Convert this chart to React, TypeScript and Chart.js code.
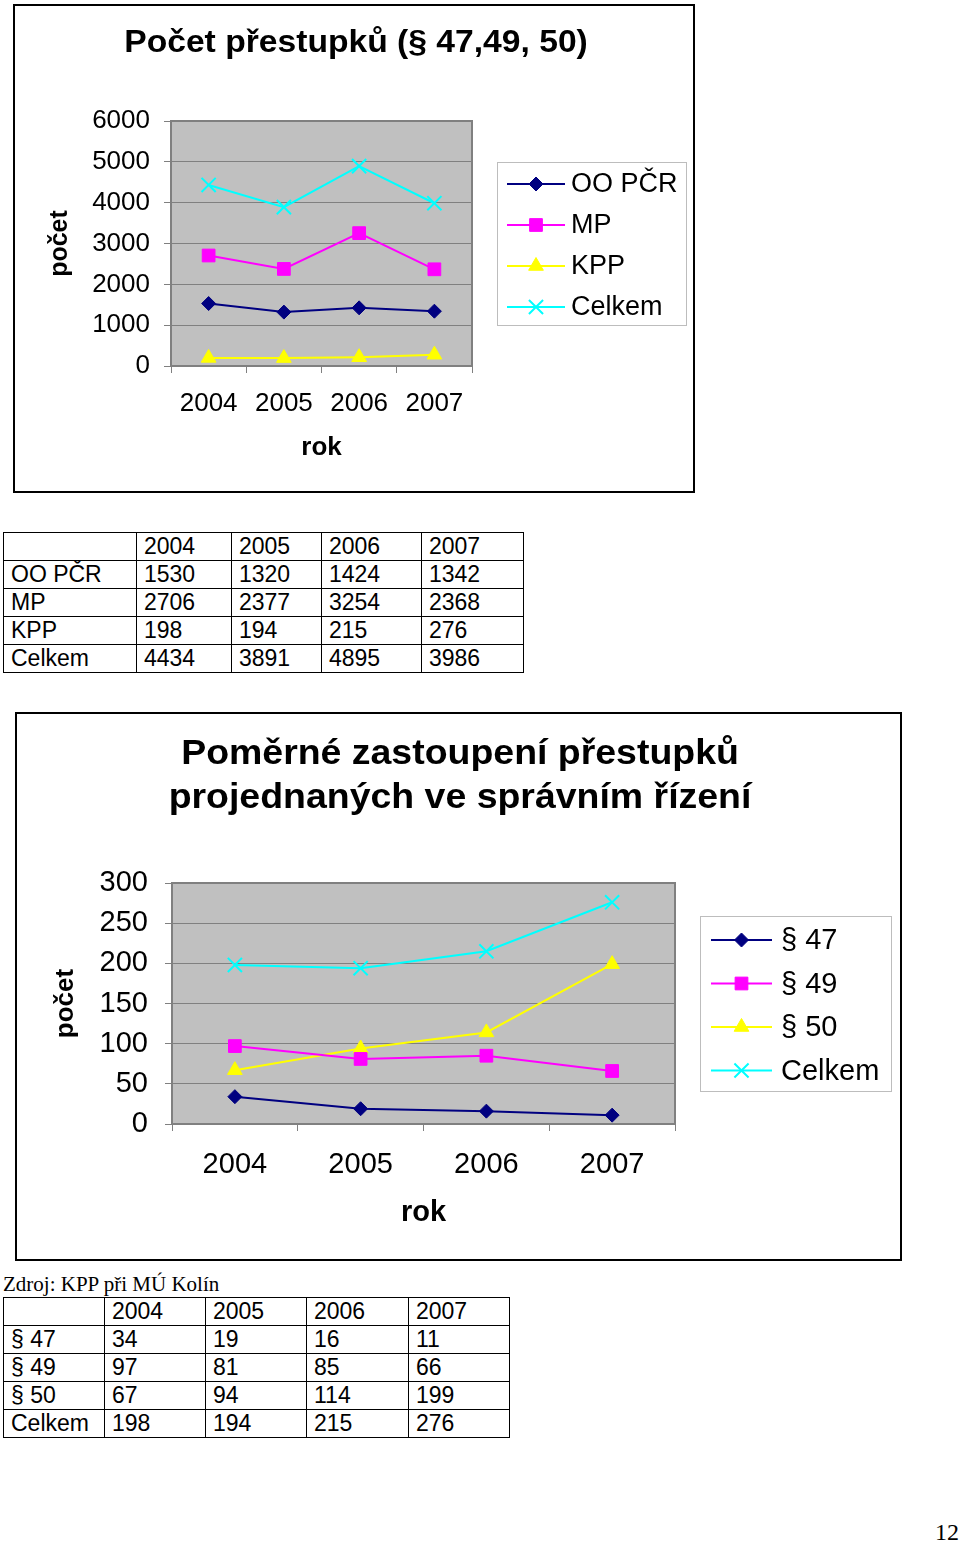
import React, { useEffect, useRef } from "react";
import { Chart, registerables } from "chart.js";
import { drawPoint } from "chart.js/helpers";

Chart.register(...registerables);

const FONT = '"Liberation Sans", Arial, Helvetica, sans-serif';
const SERIF = '"Liberation Serif", "Times New Roman", serif';

// ---------- data ----------
const years = ["2004", "2005", "2006", "2007"];

const chart1Title = ["Počet přestupků (§ 47,49, 50)"];
const chart1Series = ["OO PČR", "MP", "KPP", "Celkem"];
const ooPcr = [1530, 1320, 1424, 1342];
const mp = [2706, 2377, 3254, 2368];
const kpp = [198, 194, 215, 276];
const celkem1 = [4434, 3891, 4895, 3986];
const chart1YMax = 6000;
const chart1YStep = 1000;

const chart2Title = ["Poměrné zastoupení přestupků", "projednaných ve správním řízení"];
const chart2Series = ["§ 47", "§ 49", "§ 50", "Celkem"];
const par47 = [34, 19, 16, 11];
const par49 = [97, 81, 85, 66];
const par50 = [67, 94, 114, 199];
const celkem2 = [198, 194, 215, 276];
const chart2YMax = 300;
const chart2YStep = 50;

const xAxisTitle = "rok";
const yAxisTitle = "počet";
const sourceNote = "Zdroj: KPP při MÚ Kolín";
const pageNumber = "12";

// ---------- styles ----------
const seriesStyles = [
  { color: "#000080", pointStyle: "rectRot", radius: 7, bw: 1 },
  { color: "#FF00FF", pointStyle: "rect", radius: 9, bw: 1 },
  { color: "#FFFF00", pointStyle: "triangle", radius: 8.5, bw: 1 },
  { color: "#00FFFF", pointStyle: "crossRot", radius: 10, bw: 2 },
];

const decoPlugin = {
  id: "deco",
  beforeDraw(chart: any, _a: any, opts: any) {
    const { ctx, chartArea: a } = chart;
    ctx.save();
    ctx.fillStyle = opts.plotBg;
    ctx.fillRect(a.left, a.top, a.right - a.left, a.bottom - a.top);
    ctx.restore();
  },
  beforeDatasetsDraw(chart: any, _a: any, opts: any) {
    const { ctx, chartArea: a } = chart;
    ctx.save();
    ctx.strokeStyle = opts.plotBorder;
    ctx.lineWidth = 2;
    ctx.strokeRect(a.left, a.top, a.right - a.left, a.bottom - a.top);
    ctx.restore();
  },
  afterDraw(chart: any, _a: any, opts: any) {
    const { ctx } = chart;
    ctx.save();
    // title
    ctx.fillStyle = "#000";
    ctx.textAlign = "center";
    ctx.textBaseline = "alphabetic";
    ctx.font = `bold ${opts.titleSize}px ${FONT}`;
    opts.title.forEach((line: string, i: number) => {
      ctx.save();
      ctx.translate(opts.titleX, opts.titleY + i * opts.titleGap);
      ctx.scale(opts.titleStretch, 1);
      ctx.fillText(line, 0, 0);
      ctx.restore();
    });
    // legend
    const L = opts.legend;
    ctx.strokeStyle = "#BDBDBD";
    ctx.lineWidth = 1;
    ctx.strokeRect(L.x + 0.5, L.y + 0.5, L.w, L.h);
    ctx.font = `${L.fontSize}px ${FONT}`;
    ctx.textAlign = "left";
    ctx.textBaseline = "middle";
    chart.data.datasets.forEach((ds: any, i: number) => {
      const y = L.firstY + i * L.gap;
      ctx.strokeStyle = ds.borderColor;
      ctx.lineWidth = ds.borderWidth;
      ctx.beginPath();
      ctx.moveTo(L.lineX0, y);
      ctx.lineTo(L.lineX1, y);
      ctx.stroke();
      ctx.fillStyle = ds.pointBackgroundColor;
      ctx.strokeStyle = ds.pointBorderColor;
      ctx.lineWidth = ds.pointBorderWidth;
      drawPoint(
        ctx,
        { pointStyle: ds.pointStyle, rotation: 0, radius: ds.pointRadius, borderWidth: ds.pointBorderWidth } as any,
        (L.lineX0 + L.lineX1) / 2,
        y
      );
      ctx.fillStyle = "#000";
      ctx.fillText(ds.label, L.textX, y + 1);
    });
    ctx.restore();
  },
};

function makeDatasets(names: string[], values: number[][]) {
  return names.map((name, i) => {
    const s = seriesStyles[i];
    return {
      label: name,
      data: values[i],
      borderColor: s.color,
      backgroundColor: s.color,
      borderWidth: 2,
      pointStyle: s.pointStyle,
      pointRadius: s.radius,
      pointHoverRadius: s.radius,
      pointBackgroundColor: s.color,
      pointBorderColor: s.color,
      pointBorderWidth: s.bw,
      tension: 0,
      fill: false,
      clip: false,
    };
  });
}

type Geo = {
  padTop: number;
  padRight: number;
  yWidth: number;
  xHeight: number;
  tickFont: number;
  yPad: number;
  xPad: number;
  yTitleFont: number;
  yTitlePad: number;
  xTitleFont: number;
  xTitlePad: number;
  yMax: number;
  yStep: number;
  deco: any;
};

function makeConfig(names: string[], values: number[][], g: Geo): any {
  return {
    type: "line",
    data: { labels: years, datasets: makeDatasets(names, values) },
    plugins: [decoPlugin],
    options: {
      animation: false,
      responsive: false,
      maintainAspectRatio: false,
      events: [],
      layout: { padding: { top: g.padTop, right: g.padRight, left: 0, bottom: 0 } },
      plugins: {
        legend: { display: false },
        title: { display: false },
        tooltip: { enabled: false },
        deco: g.deco,
      },
      scales: {
        x: {
          type: "category",
          offset: true,
          grid: {
            offset: true,
            drawOnChartArea: false,
            drawTicks: true,
            tickLength: 7,
            tickColor: "#808080",
            color: "#808080",
          },
          border: { display: true, color: "#808080", width: 2 },
          ticks: {
            padding: g.xPad,
            color: "#000",
            maxRotation: 0,
            autoSkip: false,
            font: { family: FONT, size: g.tickFont },
          },
          title: {
            display: true,
            text: xAxisTitle,
            color: "#000",
            font: { family: FONT, size: g.xTitleFont, weight: "bold" },
            padding: { top: 0, bottom: g.xTitlePad },
          },
          afterFit: (s: any) => {
            s.height = g.xHeight;
          },
        },
        y: {
          min: 0,
          max: g.yMax,
          grid: { color: "#808080", lineWidth: 1, tickLength: 7, tickColor: "#808080", drawTicks: true },
          border: { display: true, color: "#808080", width: 2 },
          ticks: {
            stepSize: g.yStep,
            padding: g.yPad,
            color: "#000",
            font: { family: FONT, size: g.tickFont },
            callback: (v: any) => String(v),
          },
          title: {
            display: true,
            text: yAxisTitle,
            color: "#000",
            font: { family: FONT, size: g.yTitleFont, weight: "bold" },
            padding: { top: g.yTitlePad, bottom: 0 },
          },
          afterFit: (s: any) => {
            s.width = g.yWidth;
          },
        },
      },
    },
  };
}

function ChartBox(props: { left: number; top: number; width: number; height: number; config: any }) {
  const ref = useRef<HTMLCanvasElement | null>(null);
  useEffect(() => {
    if (!ref.current) return;
    const chart = new Chart(ref.current, props.config);
    return () => chart.destroy();
  }, []);
  const innerW = props.width - 4;
  const innerH = props.height - 4;
  return (
    <div
      style={{
        position: "absolute",
        left: props.left,
        top: props.top,
        width: props.width,
        height: props.height,
        border: "2px solid #000",
        boxSizing: "border-box",
        background: "#fff",
      }}
    >
      <canvas ref={ref} width={innerW} height={innerH} style={{ display: "block", width: innerW, height: innerH }} />
    </div>
  );
}

function DataTable(props: {
  left: number;
  top: number;
  colWidths: number[];
  names: string[];
  values: number[][];
}) {
  const total = props.colWidths.reduce((a, b) => a + b, 0);
  const td: React.CSSProperties = {
    border: "1px solid #000",
    padding: "0 0 0 7px",
    height: 27,
    lineHeight: "27px",
    whiteSpace: "nowrap",
    overflow: "hidden",
  };
  return (
    <table
      style={{
        position: "absolute",
        left: props.left,
        top: props.top,
        width: total,
        borderCollapse: "collapse",
        tableLayout: "fixed",
        fontFamily: FONT,
        fontSize: 23,
        color: "#000",
      }}
    >
      <colgroup>
        {props.colWidths.map((w, i) => (
          <col key={i} style={{ width: w }} />
        ))}
      </colgroup>
      <tbody>
        <tr>
          <td style={td}></td>
          {years.map((y) => (
            <td key={y} style={td}>
              {y}
            </td>
          ))}
        </tr>
        {props.names.map((n, i) => (
          <tr key={n}>
            <td style={td}>{n}</td>
            {props.values[i].map((v, j) => (
              <td key={j} style={td}>
                {v}
              </td>
            ))}
          </tr>
        ))}
      </tbody>
    </table>
  );
}

const config1 = makeConfig(chart1Series, [ooPcr, mp, kpp, celkem1], {
  padTop: 115,
  padRight: 221,
  yWidth: 156,
  xHeight: 125,
  tickFont: 26,
  yPad: 14,
  xPad: 15,
  yTitleFont: 25,
  yTitlePad: 30,
  xTitleFont: 26,
  xTitlePad: 28,
  yMax: chart1YMax,
  yStep: chart1YStep,
  deco: {
    plotBg: "#C0C0C0",
    plotBorder: "#808080",
    title: chart1Title,
    titleSize: 31,
    titleStretch: 1.085,
    titleX: 341,
    titleY: 46,
    titleGap: 0,
    legend: { x: 482, y: 156, w: 189, h: 163, firstY: 178, gap: 41, lineX0: 492, lineX1: 550, textX: 556, fontSize: 27 },
  },
});

const config2 = makeConfig(chart2Series, [par47, par49, par50, celkem2], {
  padTop: 169,
  padRight: 225,
  yWidth: 155,
  xHeight: 135,
  tickFont: 29,
  yPad: 17,
  xPad: 17,
  yTitleFont: 26,
  yTitlePad: 33,
  xTitleFont: 29,
  xTitlePad: 29,
  yMax: chart2YMax,
  yStep: chart2YStep,
  deco: {
    plotBg: "#C0C0C0",
    plotBorder: "#808080",
    title: chart2Title,
    titleSize: 35,
    titleStretch: 1.07,
    titleX: 443,
    titleY: 50,
    titleGap: 44,
    legend: { x: 683, y: 202, w: 191, h: 175, firstY: 226, gap: 43.5, lineX0: 694, lineX1: 755, textX: 764, fontSize: 29 },
  },
});

export default function App() {
  return (
    <div
      style={{
        position: "absolute",
        left: 0,
        top: 0,
        width: 960,
        height: 1543,
        background: "#fff",
        overflow: "hidden",
      }}
    >
      <ChartBox left={13} top={4} width={682} height={489} config={config1} />
      <DataTable left={3} top={532} colWidths={[133, 95, 90, 100, 102]} names={chart1Series} values={[ooPcr, mp, kpp, celkem1]} />
      <ChartBox left={15} top={712} width={887} height={549} config={config2} />
      <div
        style={{
          position: "absolute",
          left: 3,
          top: 1272,
          fontFamily: SERIF,
          fontSize: 21,
          lineHeight: "24px",
          color: "#000",
          whiteSpace: "nowrap",
        }}
      >
        {sourceNote}
      </div>
      <DataTable left={3} top={1297} colWidths={[101, 101, 101, 102, 101]} names={chart2Series} values={[par47, par49, par50, celkem2]} />
      <div
        style={{
          position: "absolute",
          left: 935,
          top: 1519,
          fontFamily: SERIF,
          fontSize: 24,
          lineHeight: "26px",
          color: "#000",
        }}
      >
        {pageNumber}
      </div>
    </div>
  );
}
